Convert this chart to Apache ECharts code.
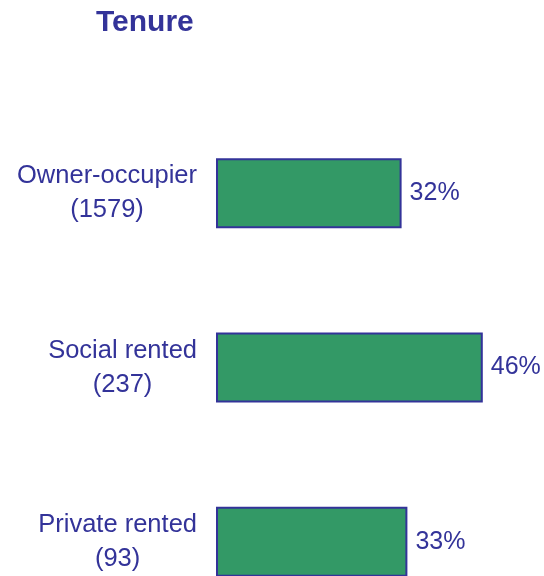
<!DOCTYPE html>
<html>
<head>
<meta charset="utf-8">
<script src="https://cdn.jsdelivr.net/npm/echarts@6/dist/echarts.min.js"></script>
<style>
    html, body { margin: 0; padding: 0; background: #fff; }
    #main { width: 544px; height: 576px; }
</style>
</head>
<body>
<div id="main"></div>
<script>
var categories = ['Owner-occupier', 'Social rented', 'Private rented'];
var counts = [1579, 237, 93];
var percents = [32, 46, 33];

var navy = '#333399';
var green = '#339966';

var myChart = echarts.init(document.getElementById('main'));

var option = {
    animation: false,
    title: {
        text: 'Tenure',
        left: 91,
        top: 3,
        textStyle: {
            color: navy,
            fontFamily: 'Liberation Sans',
            fontWeight: 'bold',
            fontSize: 30
        }
    },
    grid: {
        left: 216,
        top: 106,
        width: 290,
        height: 523,
        outerBoundsMode: 'none'
    },
    xAxis: {
        type: 'value',
        min: 0,
        max: 50,
        show: false
    },
    yAxis: {
        type: 'category',
        inverse: true,
        data: categories,
        axisLine: {show: false},
        axisTick: {show: false},
        splitLine: {show: false},
        axisLabel: {
            margin: 19,
            align: 'right',
            formatter: function (value, idx) {
                return '{a|' + value + '}\n{a|(' + counts[idx] + ')}';
            },
            rich: {
                a: {
                    align: 'center',
                    color: navy,
                    fontFamily: 'Liberation Sans',
                    fontSize: 25.5,
                    lineHeight: 34
                }
            }
        }
    },
    series: [
        {
            type: 'bar',
            data: percents,
            barWidth: 70,
            itemStyle: {
                color: green,
                borderColor: navy,
                borderWidth: 2
            },
            label: {
                show: true,
                position: 'right',
                distance: 8,
                formatter: '{c}%',
                color: navy,
                fontFamily: 'Liberation Sans',
                fontSize: 25
            }
        }
    ]
};

myChart.setOption(option);
</script>
</body>
</html>
